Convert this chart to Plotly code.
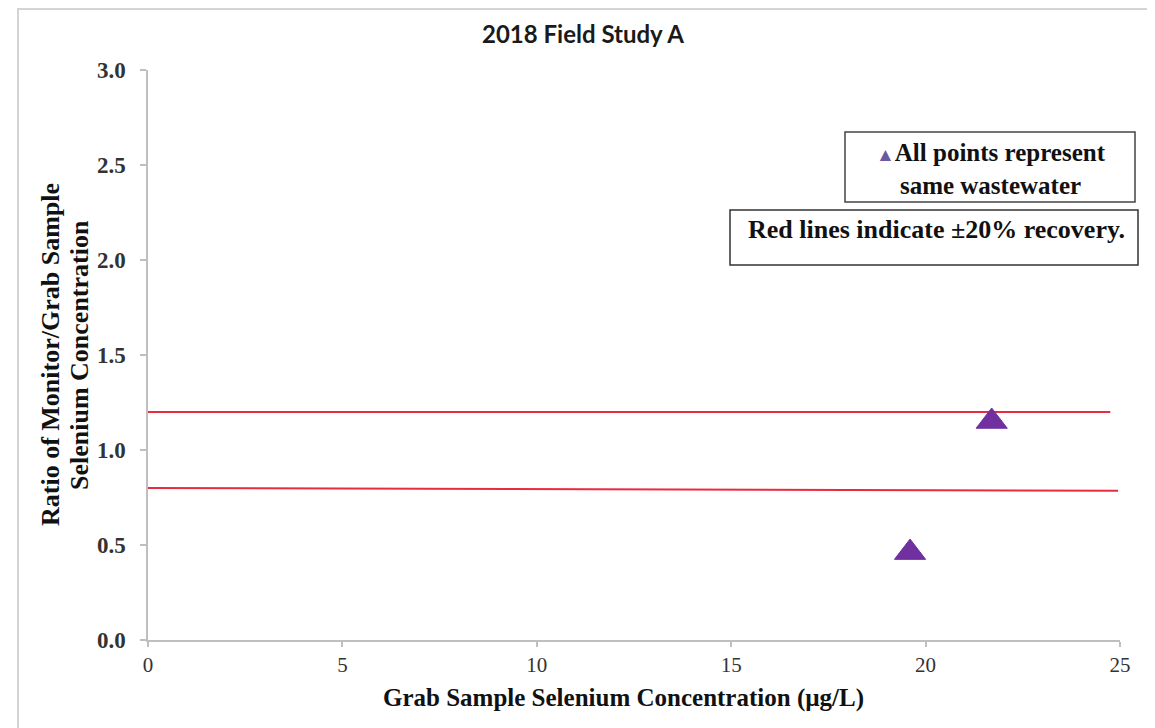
import plotly.graph_objects as go

# Data
grab_conc = [19.6, 21.7]
ratio = [0.46, 1.15]
upper_x = [0, 24.75]
upper_y = [1.20, 1.20]
lower_x = [0, 24.95]
lower_y = [0.80, 0.785]
x_ticks = [0, 5, 10, 15, 20, 25]
y_ticks = [0.0, 0.5, 1.0, 1.5, 2.0, 2.5, 3.0]
y_tick_labels = ["0.0", "0.5", "1.0", "1.5", "2.0", "2.5", "3.0"]

SERIF = "Liberation Serif, Times New Roman, serif"
RED = "#ea2a3e"
PURPLE = "#7030A0"
AXIS = "#bfbfbf"

# plot area in final picture: x 147..1119, y 70..640
PX0, PW, PY0, PH = 147, 972, 640, 570


def px(x):
    return (x - PX0) / PW


def py(y):
    return (PY0 - y) / PH


fig = go.Figure()
fig.add_trace(go.Scatter(x=upper_x, y=upper_y, mode="lines",
                         line=dict(color=RED, width=2), showlegend=False, hoverinfo="skip"))
fig.add_trace(go.Scatter(x=lower_x, y=lower_y, mode="lines",
                         line=dict(color=RED, width=2), showlegend=False, hoverinfo="skip"))
fig.add_trace(go.Scatter(x=grab_conc, y=ratio, mode="markers",
                         marker=dict(symbol="triangle-up", size=27, color=PURPLE,
                                     line=dict(color=PURPLE, width=1)),
                         showlegend=False))

fig.update_layout(
    width=1155, height=728,
    margin=dict(l=140, r=43, t=62, b=96),
    paper_bgcolor="white", plot_bgcolor="white",
    xaxis=dict(range=[0, 25], tickvals=x_ticks, ticktext=[str(v) for v in x_ticks],
               showgrid=False, zeroline=False, showline=True, linecolor=AXIS, linewidth=1.5,
               ticks="outside", ticklen=5, tickcolor=AXIS, tickwidth=1.5,
               ticklabelstandoff=0,
               tickfont=dict(family=SERIF, size=21, color="#333333")),
    yaxis=dict(range=[0, 3.0], tickvals=y_ticks, ticktext=["<b>%s</b>" % t for t in y_tick_labels],
               showgrid=False, zeroline=False, showline=True, linecolor=AXIS, linewidth=1.5,
               ticks="outside", ticklen=6, tickcolor=AXIS, tickwidth=1.5,
               ticklabelstandoff=10,
               tickfont=dict(family=SERIF, size=23, color="#333333")),
)

# chart title
fig.add_annotation(xref="paper", yref="paper", x=px(582), y=py(33),
                   xanchor="center", yanchor="middle", showarrow=False,
                   text="<b>2018 Field Study A</b>",
                   font=dict(family="Lato, Open Sans, sans-serif", size=24, color="#1a1a1a"))

# axis titles
fig.add_annotation(xref="paper", yref="paper", x=px(622), y=py(698),
                   xanchor="center", yanchor="middle", showarrow=False,
                   text="<b>Grab Sample Selenium Concentration (µg/L)</b>",
                   font=dict(family=SERIF, size=25, color="#111111"))
fig.add_annotation(xref="paper", yref="paper", x=px(49), y=py(355),
                   xanchor="center", yanchor="middle", showarrow=False, textangle=-90,
                   text="<b>Ratio of Monitor/Grab Sample</b>",
                   font=dict(family=SERIF, size=26, color="#111111"))
fig.add_annotation(xref="paper", yref="paper", x=px(78), y=py(355),
                   xanchor="center", yanchor="middle", showarrow=False, textangle=-90,
                   text="<b>Selenium Concentration</b>",
                   font=dict(family=SERIF, size=26, color="#111111"))

# outer chart frame
fig.add_shape(type="rect", xref="paper", yref="paper",
              x0=px(17), x1=px(1148), y0=py(760), y1=py(9),
              line=dict(color="#d4d4d4", width=2), fillcolor="rgba(0,0,0,0)", layer="below")

# legend-like boxes
fig.add_shape(type="rect", xref="paper", yref="paper",
              x0=px(844), x1=px(1134), y0=py(202), y1=py(132),
              line=dict(color="#444444", width=1.5), fillcolor="white")
fig.add_annotation(xref="paper", yref="paper", x=px(990), y=py(169),
                   xanchor="center", yanchor="middle", showarrow=False, align="center",
                   text="<span style='color:#6a58a0;font-size:19px'>▲</span><b>All points represent</b><br><b>same wastewater</b>",
                   font=dict(family=SERIF, size=25, color="#111111"))

fig.add_shape(type="rect", xref="paper", yref="paper",
              x0=px(729), x1=px(1137), y0=py(265), y1=py(210),
              line=dict(color="#333333", width=1.5), fillcolor="white")
fig.add_annotation(xref="paper", yref="paper", x=px(935), y=py(229),
                   xanchor="center", yanchor="middle", showarrow=False,
                   text="<b>Red lines indicate ±20% recovery.</b>",
                   font=dict(family=SERIF, size=26, color="#111111"))

fig.write_html("out.html")
